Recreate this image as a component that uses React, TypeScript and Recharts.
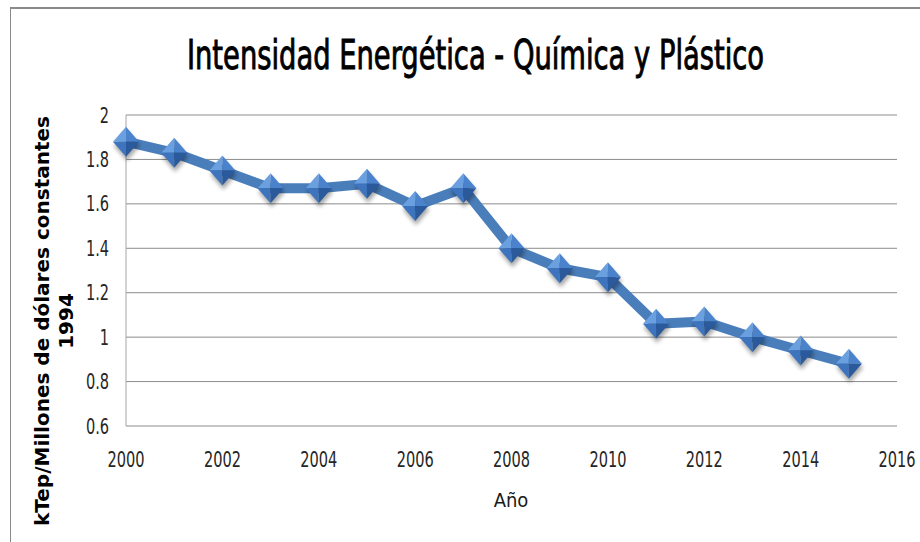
import { CartesianGrid, Line, LineChart, XAxis, YAxis } from 'recharts';

const years = [2000, 2001, 2002, 2003, 2004, 2005, 2006, 2007, 2008, 2009, 2010, 2011, 2012, 2013, 2014, 2015];
const intensity = [1.88, 1.83, 1.75, 1.67, 1.67, 1.69, 1.59, 1.67, 1.4, 1.31, 1.27, 1.06, 1.07, 1.0, 0.94, 0.88];
const xTicks = [2000, 2002, 2004, 2006, 2008, 2010, 2012, 2014, 2016];
const yTicks = [0.6, 0.8, 1, 1.2, 1.4, 1.6, 1.8, 2];

const data = years.map((year, i) => ({ year, value: intensity[i] }));

const condensed = '"DejaVu Sans Condensed", "Liberation Sans Narrow", sans-serif';

interface DotProps {
	cx?: number;
	cy?: number;
	index?: number;
}

// excel style bevelled diamond
const DiamondDot = ({ cx, cy, index }: DotProps) => {
	if (cx === undefined || cy === undefined) return null;
	const w = 13;
	const h = 15;
	const top = `${cx},${cy - h}`;
	const bottom = `${cx},${cy + h}`;
	const left = `${cx - w},${cy}`;
	const right = `${cx + w},${cy}`;
	const mid = `${cx},${cy}`;
	return (
		<g key={`dot-${index}`}>
			<defs>
				<filter id='dotShadow' x='-50%' y='-50%' width='200%' height='200%'>
					<feGaussianBlur stdDeviation='2' />
				</filter>
			</defs>
			<polygon
				points={`${cx + 1},${cy - h + 4} ${cx + w + 1},${cy + 4} ${cx + 1},${cy + h + 4} ${cx - w + 1},${cy + 4}`}
				fill='#000'
				opacity={0.35}
				filter='url(#dotShadow)'
			/>
			<polygon points={`${top} ${mid} ${left}`} fill='#6a9fe0' />
			<polygon points={`${top} ${right} ${mid}`} fill='#4a83cc' />
			<polygon points={`${left} ${mid} ${bottom}`} fill='#3d74bd' />
			<polygon points={`${mid} ${right} ${bottom}`} fill='#2a5a9c' />
		</g>
	);
};

interface TickProps {
	x?: number;
	y?: number;
	payload?: { value: number };
}

const XTick = ({ x, y, payload }: TickProps) => (
	<text
		transform={`translate(${x ?? 0}, ${(y ?? 0) + 33}) scale(0.77, 1)`}
		textAnchor='middle'
		fill='#262626'
		fontSize={21}
		fontFamily={condensed}>
		{payload?.value}
	</text>
);

const YTick = ({ x, y, payload }: TickProps) => (
	<text
		transform={`translate(${(x ?? 0) - 9}, ${(y ?? 0) + 7.5}) scale(0.77, 1)`}
		textAnchor='end'
		fill='#262626'
		fontSize={21}
		fontFamily={condensed}>
		{payload?.value}
	</text>
);

export default function App() {
	return (
		<div style={{ position: 'absolute', left: 0, top: 0, width: 920, height: 542, background: '#fff', overflow: 'hidden' }}>
			<div
				style={{
					position: 'absolute',
					left: 10,
					top: 7,
					width: 930,
					height: 560,
					borderLeft: '1px solid #8a8a8a',
					borderTop: '2px solid #8a8a8a',
				}}
			/>
			<div style={{ position: 'absolute', left: 0, top: 0 }}>
				<LineChart width={920} height={542} data={data} margin={{ top: 115, right: 23, bottom: 0, left: 0 }}>
					<CartesianGrid vertical={false} stroke='#8c8c8c' strokeWidth={1} />
					<XAxis
						dataKey='year'
						type='number'
						domain={[2000, 2016]}
						ticks={xTicks}
						axisLine={false}
						tickLine={false}
						height={116}
						tick={<XTick />}
						interval={0}
					/>
					<YAxis
						type='number'
						domain={[0.6, 2]}
						ticks={yTicks}
						axisLine={{ stroke: '#a6a6a6' }}
						tickLine={false}
						width={126}
						tick={<YTick />}
						interval={0}
					/>
					<Line
						type='linear'
						dataKey='value'
						stroke='#4a7ebb'
						strokeWidth={10}
						strokeLinejoin='round'
						dot={<DiamondDot />}
						activeDot={false}
						isAnimationActive={false}
					/>
				</LineChart>
			</div>
			<svg width={920} height={542} style={{ position: 'absolute', left: 0, top: 0, pointerEvents: 'none' }}>
				<text
					transform='translate(475.5, 69) scale(0.76, 1)'
					textAnchor='middle'
					fontFamily={condensed}
					fontSize={40}
					stroke='#000'
					strokeWidth={0.9}
					fill='#000'>
					Intensidad Energética - Química y Plástico
				</text>
				<text x={511} y={507} textAnchor='middle' fontFamily={condensed} fontSize={20} fill='#1a1a1a'>
					Año
				</text>
				<g transform='translate(48.5, 321) rotate(-90)'>
					<text
						x={0}
						y={0}
						textAnchor='middle'
						fontFamily='"DejaVu Sans", Verdana, sans-serif'
						fontWeight='bold'
						fontSize={20}
						fill='#000'>
						kTep/Millones de dólares constantes
					</text>
					<text
						x={0}
						y={24}
						textAnchor='middle'
						fontFamily='"DejaVu Sans", Verdana, sans-serif'
						fontWeight='bold'
						fontSize={20}
						fill='#000'>
						1994
					</text>
				</g>
			</svg>
		</div>
	);
}
